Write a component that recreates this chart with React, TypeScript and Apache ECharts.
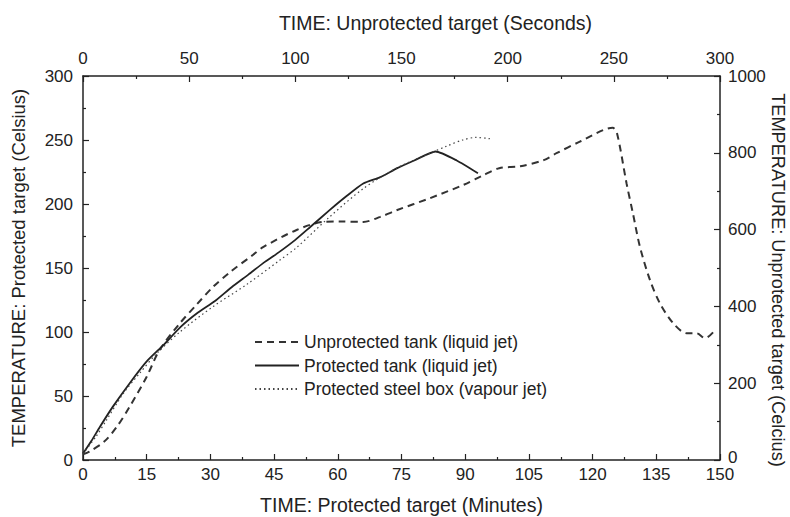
import React, { useEffect, useRef } from "react";
import * as echarts from "echarts";

// Unprotected tank (liquid jet) — time in seconds (top axis), temperature on right axis
const unprotectedSec = [0, 3, 10, 16, 22, 30, 36, 45.6, 53.4, 61.3, 69, 80, 85, 100.6, 113, 121, 132, 140, 148, 163, 179, 188, 196, 206, 217, 223, 234, 249.5, 251.5, 256, 259, 262.3, 267, 271.7, 278, 284.3, 289, 293, 297];
const unprotectedTemp = [15, 22, 48, 87, 139, 217, 286, 356, 404, 451, 488, 534, 555, 599, 620, 621, 620, 633, 651, 681, 716, 740, 760, 765, 781, 799, 829, 865, 851, 720, 642, 555, 469, 408, 356, 330, 330, 317, 334];

// Protected tank (liquid jet) — minutes (bottom axis), left axis
const protTankMin = [0, 2, 4, 7, 11, 15, 19, 23, 27, 31, 35, 39, 42.5, 46, 50, 53.5, 58, 62, 66, 70, 74, 78, 83, 88, 93];
const protTankTemp = [5, 15, 26, 41.5, 60, 77, 90, 104, 115, 124, 135, 145, 154, 162, 172, 182, 195, 206, 216, 221, 228, 234, 241, 234, 224];

// Protected steel box (vapour jet) — minutes (bottom axis), left axis
const steelBoxMin = [0, 3, 5.5, 9.5, 13.4, 17.3, 22.8, 30.7, 38.5, 46.3, 50.3, 58.1, 66, 73.8, 81.6, 85.5, 89.4, 92.6, 95.8];
const steelBoxTemp = [5, 18, 31, 52, 68, 83, 100, 120, 137, 156, 166, 190, 212, 228, 239.5, 245, 250, 252, 251];

const seriesNames = [
  "Unprotected tank (liquid jet)",
  "Protected tank (liquid jet)",
  "Protected steel box (vapour jet)",
];

const rightAxisTitle = "TEMPERATURE: Unprotected target (Celcius)";

const zip = (xs: number[], ys: number[]) => xs.map((x, i) => [x, ys[i]]);

const FONT = '"Liberation Sans", Arial, Helvetica, sans-serif';
const INK = "#222";

export default function App() {
  const ref = useRef<HTMLDivElement>(null);
  useEffect(() => {
    if (!ref.current) return;
    const chart = echarts.init(ref.current, undefined, { renderer: "svg" });
    const axisCommon = {
      type: "value" as const,
      axisLine: { show: true, onZero: false, lineStyle: { color: INK, width: 1.5 } },
      axisTick: { show: true, inside: true, length: 6, lineStyle: { color: INK, width: 1.2 } },
      minorTick: { show: true, splitNumber: 2, length: 3, lineStyle: { color: INK, width: 1.2 } },
      splitLine: { show: false },
      axisLabel: { color: INK, fontSize: 17, fontFamily: FONT, formatter: (v: number) => String(v) },
      nameTextStyle: { color: INK, fontSize: 19.5, fontFamily: FONT },
      nameLocation: "middle" as const,
    };
    chart.setOption({
      animation: false,
      backgroundColor: "#fff",
      textStyle: { fontFamily: FONT, color: INK },
      grid: { left: 83, right: 70, top: 76, bottom: 57, containLabel: false, outerBoundsMode: "none" },
      legend: {
        show: true,
        orient: "vertical",
        left: 249,
        top: 328,
        itemWidth: 44,
        itemHeight: 14,
        itemGap: 5.5,
        itemStyle: { opacity: 0 },
        textStyle: { color: INK, fontSize: 17.5, fontFamily: FONT },
        data: seriesNames,
      },
      graphic: [
        {
          type: "text",
          x: 778,
          y: 280,
          rotation: -Math.PI / 2,
          silent: true,
          style: {
            text: rightAxisTitle,
            fill: INK,
            font: `18.2px ${FONT}`,
            align: "center",
            verticalAlign: "middle",
          },
        },
      ],
      xAxis: [
        {
          ...axisCommon,
          position: "bottom",
          min: 0,
          max: 150,
          interval: 15,
          name: "TIME: Protected target (Minutes)",
          nameGap: 35,
          axisLabel: { ...axisCommon.axisLabel, margin: 7, lineHeight: 14 },
        },
        {
          ...axisCommon,
          position: "top",
          min: 0,
          max: 300,
          interval: 50,
          name: "TIME: Unprotected target (Seconds)",
          nameGap: 43,
          nameTextStyle: { ...axisCommon.nameTextStyle, padding: [0, 0, 0, 68] },
          axisLabel: { ...axisCommon.axisLabel, margin: 9 },
        },
      ],
      yAxis: [
        {
          ...axisCommon,
          position: "left",
          min: 0,
          max: 300,
          interval: 50,
          name: "TEMPERATURE: Protected target (Celsius)",
          nameGap: 55,
          nameTextStyle: { ...axisCommon.nameTextStyle, fontSize: 18.5 },
          axisLabel: { ...axisCommon.axisLabel, margin: 10 },
        },
        {
          ...axisCommon,
          position: "right",
          min: 0,
          max: 1000,
          interval: 200,
          axisLabel: {
            ...axisCommon.axisLabel,
            margin: 8,
            formatter: (v: number) => (v === 0 ? "{z|0}" : String(v)),
            rich: { z: { color: INK, fontSize: 17, fontFamily: FONT, padding: [0, 0, 6, 0] } },
          },
        },
      ],
      series: [
        {
          name: seriesNames[0],
          type: "line",
          xAxisIndex: 1,
          yAxisIndex: 1,
          data: zip(unprotectedSec, unprotectedTemp),
          symbol: "none",
          smooth: 0.3,
          lineStyle: { color: "#333", width: 2, type: [7, 5] },
        },
        {
          name: seriesNames[1],
          type: "line",
          xAxisIndex: 0,
          yAxisIndex: 0,
          data: zip(protTankMin, protTankTemp),
          symbol: "none",
          smooth: 0.2,
          lineStyle: { color: "#222", width: 1.8, type: "solid" },
        },
        {
          name: seriesNames[2],
          type: "line",
          xAxisIndex: 0,
          yAxisIndex: 0,
          data: zip(steelBoxMin, steelBoxTemp),
          symbol: "none",
          smooth: 0.3,
          lineStyle: { color: "#444", width: 1.2, type: [1.5, 3] },
        },
      ],
    });
    return () => chart.dispose();
  }, []);
  return <div ref={ref} style={{ width: 790, height: 517, position: "absolute", left: 0, top: 0 }} />;
}
